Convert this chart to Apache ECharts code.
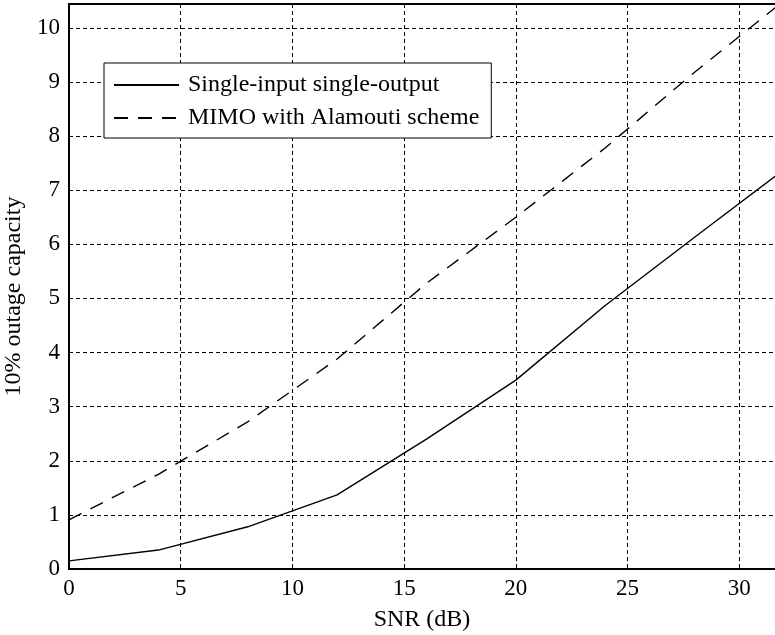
<!DOCTYPE html>
<html>
<head>
<meta charset="utf-8">
<script src="https://cdn.jsdelivr.net/npm/echarts@6/dist/echarts.min.js"></script>
<style>html,body{margin:0;padding:0;background:#fff}#c{width:775px;height:635px}</style>
</head>
<body>
<div id="c"></div>
<script>
const snr = [0, 4, 8, 12, 16, 20, 24, 28, 32];
const siso = [0.15, 0.35, 0.78, 1.37, 2.40, 3.49, 4.87, 6.13, 7.38];
const mimo = [0.91, 1.75, 2.72, 3.88, 5.28, 6.50, 7.78, 9.18, 10.50];
const seriesNames = ['Single-input single-output', 'MIMO with Alamouti scheme'];
const xTicks = [0, 5, 10, 15, 20, 25, 30];
const yTicks = [0, 1, 2, 3, 4, 5, 6, 7, 8, 9, 10];

const FONT = 'Liberation Serif';
const chart = echarts.init(document.getElementById('c'), null, {renderer: 'canvas'});
const pairs = (xs, ys) => xs.map((x, i) => [x, ys[i]]);
const gridLine = {show: true, lineStyle: {color: '#000', width: 1, type: [4, 3]}};

chart.setOption({
  animation: false,
  backgroundColor: '#fff',
  grid: {left: 69, top: 4, right: 0, bottom: 66, containLabel: false, outerBoundsMode: 'none'},
  xAxis: [{
    type: 'value', min: 0, max: 31.6, interval: 5,
    name: 'SNR (dB)', nameLocation: 'middle', nameGap: 39,
    nameTextStyle: {fontFamily: FONT, fontSize: 24, color: '#000'},
    axisLine: {show: true, lineStyle: {color: '#000', width: 2}},
    axisTick: {show: false},
    axisLabel: {fontFamily: FONT, fontSize: 23, color: '#000', margin: 8,
      formatter: v => xTicks.includes(v) ? String(v) : ''},
    splitLine: gridLine
  }, {
    type: 'value', position: 'top', min: 0, max: 31.6,
    axisLine: {show: true, onZero: false, lineStyle: {color: '#000', width: 2}},
    axisTick: {show: false}, axisLabel: {show: false}, splitLine: {show: false}
  }],
  yAxis: {
    type: 'value', min: 0, max: 10.44, interval: 1,
    name: '10% outage capacity', nameLocation: 'middle', nameGap: 36, nameRotate: 90,
    nameTextStyle: {fontFamily: FONT, fontSize: 24, color: '#000', padding: [0, 20, 0, 0]},
    axisLine: {show: true, lineStyle: {color: '#000', width: 2}},
    axisTick: {show: false},
    axisLabel: {fontFamily: FONT, fontSize: 23, color: '#000', margin: 9,
      formatter: v => yTicks.includes(v) ? String(v) : ''},
    splitLine: gridLine
  },
  legend: {
    orient: 'vertical', left: 104, top: 63,
    padding: [10, 12, 8, 9], itemGap: 9,
    itemWidth: 65, itemHeight: 14,
    itemStyle: {opacity: 0},
    backgroundColor: '#fff', borderColor: '#000', borderWidth: 1,
    textStyle: {fontFamily: FONT, fontSize: 24, color: '#000', lineHeight: 24, padding: [0, 0, 0, 4]},
    data: seriesNames
  },
  series: [{
    name: seriesNames[0], type: 'line', data: pairs(snr, siso),
    symbol: 'none', clip: true,
    lineStyle: {color: '#000', width: 1.4, type: 'solid'},
    itemStyle: {color: '#000'}
  }, {
    name: seriesNames[1], type: 'line', data: pairs(snr, mimo),
    symbol: 'none', clip: true,
    lineStyle: {color: '#000', width: 1.4, type: [14, 10]},
    itemStyle: {color: '#000'}
  }]
});
</script>
</body>
</html>
